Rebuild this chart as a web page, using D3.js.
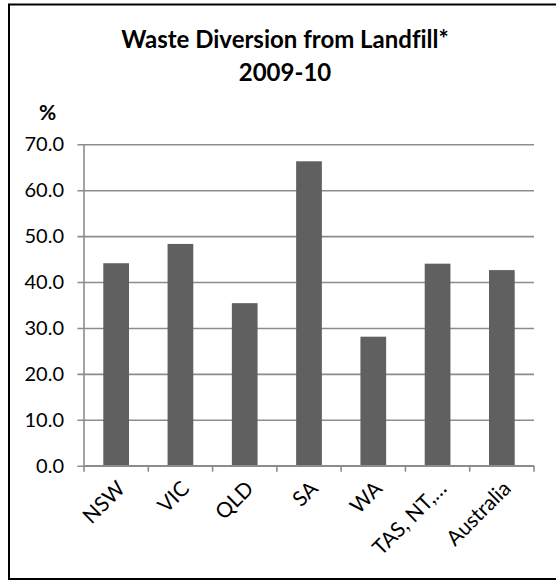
<!DOCTYPE html>
<html>
<head>
<meta charset="utf-8">
<script src="https://cdn.jsdelivr.net/npm/d3@7"></script>
<style>
  html, body { margin: 0; padding: 0; background: #fff; }
  svg { display: block; }
  text { font-family: Lato, "Open Sans", "DejaVu Sans", sans-serif; fill: #000; font-variant-ligatures: none; }
</style>
</head>
<body>
<div id="chart"></div>
<script>
// Waste diversion from landfill, by jurisdiction, 2009-10 (%)
const categories = ["NSW", "VIC", "QLD", "SA", "WA", "TAS, NT,\u2026", "Australia"];
const diversionRate = [44.1, 48.3, 35.4, 66.3, 28.1, 44.0, 42.6];
const yTicks = [0, 10, 20, 30, 40, 50, 60, 70];
const titleLines = ["Waste Diversion from Landfill*", "2009-10"];
const yUnit = "%";

const W = 556, H = 581;
const margin = { left: 84, right: 22, top: 144.3, bottom: 115.3 };

const svg = d3.select("#chart").append("svg")
  .attr("width", W).attr("height", H);

// chart frame
svg.append("rect")
  .attr("x", 9).attr("y", 4.5)
  .attr("width", W + 10).attr("height", 574.5)
  .attr("fill", "none").attr("stroke", "#000").attr("stroke-width", 2);

const x = d3.scaleBand()
  .domain(categories)
  .range([margin.left, W - margin.right])
  .paddingInner(0.6)
  .paddingOuter(0.3);

const y = d3.scaleLinear()
  .domain([0, 70])
  .range([H - margin.bottom, margin.top]);

const gridColor = "#8c8c8c";

// y axis with gridlines spanning the plot
const yAxis = svg.append("g")
  .attr("transform", `translate(${margin.left},0)`)
  .call(d3.axisLeft(y)
    .tickValues(yTicks)
    .tickFormat(d3.format(".1f"))
    .tickSize(-(W - margin.right - margin.left))
    .tickPadding(20));
yAxis.select(".domain").remove();
yAxis.selectAll(".tick line")
  .attr("x1", -6.5)
  .attr("stroke", gridColor).attr("stroke-width", 1.6);
yAxis.selectAll(".tick text")
  .attr("font-size", 20).attr("fill", "#000")
  .attr("font-family", "Lato, 'Open Sans', sans-serif");

// vertical axis line
svg.append("line")
  .attr("x1", margin.left).attr("x2", margin.left)
  .attr("y1", y(70)).attr("y2", y(0))
  .attr("stroke", gridColor).attr("stroke-width", 1.6);

// bars
svg.append("g").selectAll("rect")
  .data(categories)
  .join("rect")
  .attr("x", d => x(d))
  .attr("width", x.bandwidth())
  .attr("y", (d, i) => y(diversionRate[i]))
  .attr("height", (d, i) => y(0) - y(diversionRate[i]))
  .attr("fill", "#606060");

// x axis: tick marks at category boundaries
const step = x.step();
const boundaries = d3.range(categories.length + 1).map(i => margin.left + i * step);
const xAxis = svg.append("g");
xAxis.append("line")
  .attr("x1", margin.left).attr("x2", W - margin.right)
  .attr("y1", y(0)).attr("y2", y(0))
  .attr("stroke", gridColor).attr("stroke-width", 1.6);
xAxis.selectAll("line.tk")
  .data(boundaries)
  .join("line")
  .attr("class", "tk")
  .attr("x1", d => d).attr("x2", d => d)
  .attr("y1", y(0)).attr("y2", y(0) + 6)
  .attr("stroke", gridColor).attr("stroke-width", 1.6);

// rotated category labels
xAxis.selectAll("text")
  .data(categories)
  .join("text")
  .attr("text-anchor", "end")
  .attr("font-size", 21)
  .attr("transform", d => {
    const cx = x(d) + x.bandwidth() / 2;
    return `translate(${cx + 5},${y(0) + 19}) rotate(-45)`;
  })
  .attr("dy", "0.35em")
  .text(d => d);

// title
const title = svg.append("text")
  .attr("text-anchor", "middle")
  .attr("font-weight", "bold")
  .attr("font-size", 24);
title.selectAll("tspan")
  .data(titleLines)
  .join("tspan")
  .attr("x", 285)
  .attr("y", (d, i) => 47.5 + i * 33)
  .text(d => d);

// unit label
svg.append("text")
  .attr("x", 47.5).attr("y", 119.5)
  .attr("text-anchor", "middle")
  .attr("font-weight", "bold")
  .attr("font-size", 21)
  .text(yUnit);
</script>
</body>
</html>
